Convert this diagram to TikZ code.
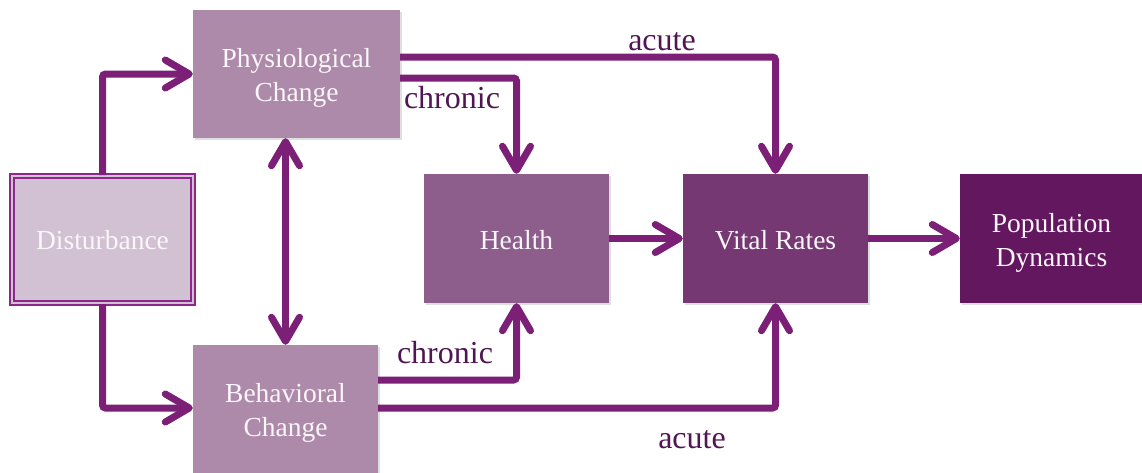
\documentclass[tikz,border=0pt]{standalone}
\usepackage{fontspec}
\setmainfont{Liberation Serif}
\usetikzlibrary{arrows.meta,shadows}
\definecolor{arrowc}{RGB}{123,31,119}
\definecolor{distfill}{RGB}{209,193,211}
\definecolor{distline}{RGB}{140,40,140}
\definecolor{changefill}{RGB}{173,138,170}
\definecolor{healthfill}{RGB}{141,94,140}
\definecolor{vitalfill}{RGB}{118,56,114}
\definecolor{popfill}{RGB}{98,23,94}
\definecolor{labelc}{RGB}{80,22,84}
\definecolor{boxtext}{RGB}{250,246,250}
\newcommand{\twoline}[3]{\raisebox{#3}[\height][\depth]{\begin{tabular}{@{}c@{}}#1\\#2\end{tabular}}}
\newcommand{\oneline}[2]{\raisebox{#2}[\height][\depth]{#1}}
\tikzset{
  plainbox/.style={rectangle, inner sep=0pt, align=center, text=boxtext,
    font=\fontsize{27.5}{34}\selectfont},
  boxnode/.style={plainbox,
    drop shadow={shadow xshift=2pt, shadow yshift=-2pt, opacity=0.25}},
  conn/.style={draw=arrowc, line width=7pt, rounded corners=3pt,
    -{Straight Barb[length=24pt, width=28pt, line cap=round, line join=round]}},
  biconn/.style={draw=arrowc, line width=7pt,
    {Straight Barb[length=24pt, width=28pt, line cap=round, line join=round]}-{Straight Barb[length=24pt, width=28pt, line cap=round, line join=round]}},
  lbl/.style={text=labelc, font=\fontsize{32}{36}\selectfont, inner sep=0pt}
}
\begin{document}
\begin{tikzpicture}[x=1pt,y=-1pt]
\useasboundingbox (0,0) rectangle (1142,472);
\fill[white] (0,0) rectangle (1142,472);
% nodes
\node[plainbox, fill=distfill, draw=distline, line width=2pt, double=distfill, double distance=2pt,
  minimum width=181pt, minimum height=127pt] (dist) at (102.5,239.5) {\oneline{Disturbance}{-1pt}};
\node[boxnode, fill=changefill, minimum width=207pt, minimum height=128pt] (phys) at (296.5,74) {\twoline{Physiological}{Change}{-4pt}};
\node[boxnode, fill=changefill, minimum width=185pt, minimum height=130pt] (beh) at (285.5,410) {\twoline{Behavioral}{Change}{-3pt}};
\node[boxnode, fill=healthfill, minimum width=185pt, minimum height=129pt] (health) at (516.5,238.5) {\oneline{Health}{-2pt}};
\node[boxnode, fill=vitalfill, minimum width=185pt, minimum height=129pt] (vital) at (775.5,238.5) {\oneline{Vital Rates}{-2pt}};
\node[boxnode, fill=popfill, minimum width=183pt, minimum height=129pt] (pop) at (1051.5,238.5) {\twoline{Population}{Dynamics}{-4pt}};
% connectors
\draw[conn] (dist.north) |- (phys.west);
\draw[conn] (dist.south) |- ([yshift=2pt]beh.west);
\draw[biconn] (beh.north |- phys.south) -- (beh.north);
\draw[conn] ([yshift=17pt]phys.east) -| (vital.north);
\draw[conn] ([yshift=-4pt]phys.east) -| (health.north);
\draw[conn] (health.east) -- (vital.west);
\draw[conn] (vital.east) -- (pop.west);
\draw[conn] ([yshift=30pt]beh.east) -| (health.south);
\draw[conn] ([yshift=2pt]beh.east) -| (vital.south);
% labels
\node[lbl] (lacute1) at (662,42) {acute};
\node[lbl] (lchron1) at (452,98) {chronic};
\node[lbl] (lchron2) at (445,353) {chronic};
\node[lbl] (lacute2) at (692,440) {acute};
\end{tikzpicture}
\end{document}
